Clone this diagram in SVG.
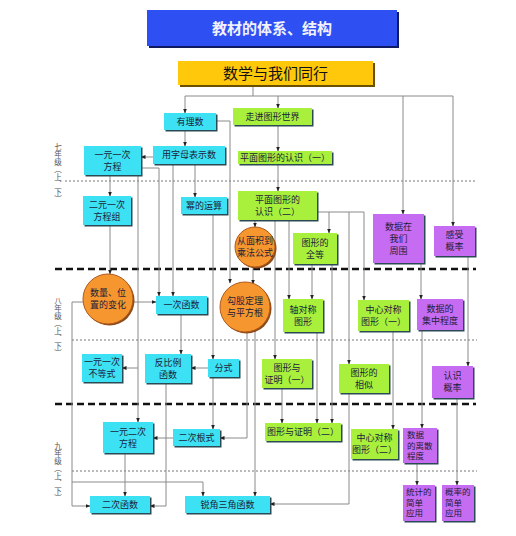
<svg xmlns="http://www.w3.org/2000/svg" width="516" height="536" viewBox="0 0 516 536">
<style>
text{font-family:"Noto Sans CJK SC","Noto Sans",sans-serif;}
.t{font-size:9px;fill:#1c1c3a;text-anchor:middle;}
.tl{font-size:8.5px;fill:#1c1c3a;text-anchor:start;}
.g{font-size:7.5px;fill:#555;writing-mode:vertical-rl;}
.sh{fill:#2a4a55;}
.c{fill:#3CE2F4;}
.gr{fill:#A8F03C;}
.p{fill:#C66CF2;}
.o{fill:#F5962E;stroke:#B0581A;stroke-width:1;}
.osh{fill:#8a4a1a;}
.ln{fill:none;stroke:#8a8a8a;stroke-width:1;}
.thick{stroke:#111;stroke-width:2.5;stroke-dasharray:7 4;}
.dot{stroke:#777;stroke-width:1;stroke-dasharray:2 2;}
</style>
<defs>
<marker id="a" markerWidth="5" markerHeight="5" refX="4.5" refY="2.5" orient="auto" markerUnits="userSpaceOnUse">
<path d="M0,0.5 L5,2.5 L0,4.5 Z" fill="#222"/>
</marker>
</defs>
<rect width="516" height="536" fill="#fff"/>

<g id="dividers">
<line class="dot" x1="65" y1="181" x2="477" y2="181"/>
<line class="thick" x1="55" y1="269" x2="476" y2="269"/>
<line class="dot" x1="72" y1="340" x2="477" y2="340"/>
<line class="thick" x1="55" y1="404" x2="476" y2="404"/>
<line class="dot" x1="72" y1="471" x2="477" y2="471"/>
</g>

<g id="grades">
<text class="g" x="58" y="143">七年级（上、下）</text>
<text class="g" x="58" y="297">八年级（上、下）</text>
<text class="g" x="58" y="442">九年级（上、下）</text>
</g>

<g id="connectors" class="ln">
<path d="M253,85 V96"/>
<path d="M185,96 H453"/>
<path d="M185,96 V113" marker-end="url(#a)"/>
<path d="M278,96 V108" marker-end="url(#a)"/>
<path d="M403,96 V214" marker-end="url(#a)"/>
<path d="M453,96 V226" marker-end="url(#a)"/>
<path d="M185,130 V146" marker-end="url(#a)"/>
<path d="M216,121 H230 V283" marker-end="url(#a)"/>
<path d="M153,157 H141" marker-end="url(#a)"/>
<path d="M195,164 V197" marker-end="url(#a)"/>
<path d="M173,164 V296" marker-end="url(#a)"/>
<path d="M278,125 V151" marker-end="url(#a)"/>
<path d="M278,164 V191" marker-end="url(#a)"/>
<path d="M110,175 V196" marker-end="url(#a)"/>
<path d="M141,168 H159 V296" marker-end="url(#a)"/>
<path d="M138,175 V422" marker-end="url(#a)"/>
<path d="M138,368 H122" marker-end="url(#a)"/>
<path d="M110,225 V274" marker-end="url(#a)"/>
<path d="M213,214 V359" marker-end="url(#a)"/>
<path d="M255,220 V227" marker-end="url(#a)"/>
<path d="M253,267 V284" marker-end="url(#a)"/>
<path d="M275,220 V359" marker-end="url(#a)"/>
<path d="M289,220 V299" marker-end="url(#a)"/>
<path d="M317,212 H364 V300" marker-end="url(#a)"/>
<path d="M329,212 V233" marker-end="url(#a)"/>
<path d="M349,212 V364" marker-end="url(#a)"/>
<path d="M312,264 V299" marker-end="url(#a)"/>
<path d="M332,264 V423" marker-end="url(#a)"/>
<path d="M421,263 V299" marker-end="url(#a)"/>
<path d="M468,256 V366" marker-end="url(#a)"/>
<path d="M133,302 H156" marker-end="url(#a)"/>
<path d="M83,302 H72 V506 H90" marker-end="url(#a)"/>
<path d="M72,482 H203 V496" marker-end="url(#a)"/>
<path d="M181,314 V354" marker-end="url(#a)"/>
<path d="M208,368 H191" marker-end="url(#a)"/>
<path d="M213,377 V429" marker-end="url(#a)"/>
<path d="M166,383 V506 H150" marker-end="url(#a)"/>
<path d="M247,332 V438 H220" marker-end="url(#a)"/>
<path d="M255,330 V496" marker-end="url(#a)"/>
<path d="M125,453 V496" marker-end="url(#a)"/>
<path d="M173,438 H153" marker-end="url(#a)"/>
<path d="M282,388 V423" marker-end="url(#a)"/>
<path d="M317,332 V423" marker-end="url(#a)"/>
<path d="M349,393 V504 H270" marker-end="url(#a)"/>
<path d="M393,331 V429" marker-end="url(#a)"/>
<path d="M422,330 V428" marker-end="url(#a)"/>
<path d="M417,463 V485" marker-end="url(#a)"/>
<path d="M457,398 V485" marker-end="url(#a)"/>
</g>

<g id="title">
<rect x="149" y="12" width="250" height="36" fill="#101a60"/>
<rect x="147" y="10" width="250" height="36" fill="#2E50F2"/>
<text x="272" y="34" font-size="15" font-weight="bold" fill="#F2F2FF" text-anchor="middle">教材的体系、结构</text>
</g>
<g id="n-main">
<rect x="180" y="63" width="195" height="24" fill="#6a5000"/>
<rect x="178" y="61" width="195" height="24" fill="#FFC80A"/>
<text x="275.5" y="78.5" font-size="15" fill="#111" text-anchor="middle">数学与我们同行</text>
</g>

<g id="n-youlishu"><rect class="sh" x="165.5" y="114.5" width="52" height="17"/><rect class="c" x="164" y="113" width="52" height="17"/><text class="t" x="190" y="124.5">有理数</text></g>
<g id="n-zoujin"><rect class="sh" x="234.5" y="109.5" width="79" height="17"/><rect class="gr" x="233" y="108" width="79" height="17"/><text class="t" x="272.5" y="119.5">走进图形世界</text></g>
<g id="n-pingmian1"><rect class="sh" x="239.5" y="152.5" width="94" height="13"/><rect class="gr" x="238" y="151" width="94" height="13"/><text class="t" x="285" y="160.5" font-size="8.5">平面图形的认识（一）</text></g>
<g id="n-zimu"><rect class="sh" x="154.5" y="147.5" width="72" height="18"/><rect class="c" x="153" y="146" width="72" height="18"/><text class="t" x="189" y="158">用字母表示数</text></g>
<g id="n-yiyuanyici"><rect class="sh" x="85.5" y="147.5" width="57" height="29"/><rect class="c" x="84" y="146" width="57" height="29"/><text class="t" x="112.5" y="157.5">一元一次</text><text class="t" x="112.5" y="169.5">方程</text></g>
<g id="n-eryuan"><rect class="sh" x="84.5" y="197.5" width="48" height="29"/><rect class="c" x="83" y="196" width="48" height="29"/><text class="t" x="107" y="207.5">二元一次</text><text class="t" x="107" y="219.5">方程组</text></g>
<g id="n-mi"><rect class="sh" x="182.5" y="198.5" width="46" height="17"/><rect class="c" x="181" y="197" width="46" height="17"/><text class="t" x="204" y="208.5">幂的运算</text></g>
<g id="n-pingmian2"><rect class="sh" x="239.5" y="192.5" width="79" height="29"/><rect class="gr" x="238" y="191" width="79" height="29"/><text class="t" x="277.5" y="202.5">平面图形的</text><text class="t" x="277.5" y="214.5">认识（二）</text></g>
<g id="n-mianji"><circle class="osh" cx="256.5" cy="248.5" r="20"/><circle class="o" cx="255" cy="247" r="20"/><text class="t" x="255" y="244">从面积到</text><text class="t" x="255" y="256">乘法公式</text></g>
<g id="n-quandeng"><rect class="sh" x="294.5" y="234.5" width="44" height="31"/><rect class="gr" x="293" y="233" width="44" height="31"/><text class="t" x="315" y="245.5">图形的</text><text class="t" x="315" y="257.5">全等</text></g>
<g id="n-shujuzai"><rect class="sh" x="374.5" y="215.5" width="51" height="49"/><rect class="p" x="373" y="214" width="51" height="49"/><text class="t" x="398.5" y="229.5">数据在</text><text class="t" x="398.5" y="241.5">我们</text><text class="t" x="398.5" y="253.5">周围</text></g>
<g id="n-ganshou"><rect class="sh" x="435.5" y="227.5" width="41" height="30"/><rect class="p" x="434" y="226" width="41" height="30"/><text class="t" x="454.5" y="238">感受</text><text class="t" x="454.5" y="250">概率</text></g>
<g id="n-shuliang"><circle class="osh" cx="109.5" cy="300.5" r="25"/><circle class="o" cx="108" cy="299" r="25"/><text class="t" x="108" y="296">数量、位</text><text class="t" x="108" y="308">置的变化</text></g>
<g id="n-yicihanshu"><rect class="sh" x="157.5" y="297.5" width="51" height="18"/><rect class="c" x="156" y="296" width="51" height="18"/><text class="t" x="181.5" y="308">一次函数</text></g>
<g id="n-gougu"><circle class="osh" cx="246.5" cy="308.5" r="25"/><circle class="o" cx="245" cy="307" r="25"/><text class="t" x="245" y="304">勾股定理</text><text class="t" x="245" y="316">与平方根</text></g>
<g id="n-zhouduicheng"><rect class="sh" x="284.5" y="300.5" width="40" height="33"/><rect class="gr" x="283" y="299" width="40" height="33"/><text class="t" x="303" y="312.5">轴对称</text><text class="t" x="303" y="324.5">图形</text></g>
<g id="n-zhongxin1"><rect class="sh" x="359.5" y="301.5" width="51" height="31"/><rect class="gr" x="358" y="300" width="51" height="31"/><text class="t" x="383.5" y="312.5">中心对称</text><text class="t" x="383.5" y="324.5">图形（一）</text></g>
<g id="n-jizhong"><rect class="sh" x="418.5" y="300.5" width="46" height="31"/><rect class="p" x="417" y="299" width="46" height="31"/><text class="t" x="440" y="311.5">数据的</text><text class="t" x="440" y="323.5">集中程度</text></g>
<g id="n-budengshi"><rect class="sh" x="83.5" y="355.5" width="40" height="28"/><rect class="c" x="82" y="354" width="40" height="28"/><text class="t" x="102" y="365">一元一次</text><text class="t" x="102" y="377">不等式</text></g>
<g id="n-fanbili"><rect class="sh" x="146.5" y="355.5" width="46" height="29"/><rect class="c" x="145" y="354" width="46" height="29"/><text class="t" x="168" y="365.5">反比例</text><text class="t" x="168" y="377.5">函数</text></g>
<g id="n-fenshi"><rect class="sh" x="209.5" y="360.5" width="31" height="18"/><rect class="c" x="208" y="359" width="31" height="18"/><text class="t" x="223.5" y="371">分式</text></g>
<g id="n-zhengming1"><rect class="sh" x="263.5" y="360.5" width="50" height="29"/><rect class="gr" x="262" y="359" width="50" height="29"/><text class="t" x="287" y="370.5">图形与</text><text class="t" x="287" y="382.5">证明（一）</text></g>
<g id="n-xiangsi"><rect class="sh" x="340.5" y="365.5" width="50" height="29"/><rect class="gr" x="339" y="364" width="50" height="29"/><text class="t" x="364" y="375.5">图形的</text><text class="t" x="364" y="387.5">相似</text></g>
<g id="n-renshi"><rect class="sh" x="433.5" y="367.5" width="41" height="32"/><rect class="p" x="432" y="366" width="41" height="32"/><text class="t" x="452.5" y="379">认识</text><text class="t" x="452.5" y="391">概率</text></g>
<g id="n-yiyuaner"><rect class="sh" x="104.5" y="423.5" width="50" height="31"/><rect class="c" x="103" y="422" width="50" height="31"/><text class="t" x="128" y="434.5">一元二次</text><text class="t" x="128" y="446.5">方程</text></g>
<g id="n-genshi"><rect class="sh" x="174.5" y="430.5" width="47" height="17"/><rect class="c" x="173" y="429" width="47" height="17"/><text class="t" x="196.5" y="440.5">二次根式</text></g>
<g id="n-zhengming2"><rect class="sh" x="266.5" y="424.5" width="76" height="18"/><rect class="gr" x="265" y="423" width="76" height="18"/><text class="t" x="303" y="435">图形与证明（二）</text></g>
<g id="n-zhongxin2"><rect class="sh" x="352.5" y="430.5" width="47" height="30"/><rect class="gr" x="351" y="429" width="47" height="30"/><text class="t" x="374.5" y="441">中心对称</text><text class="t" x="374.5" y="453">图形（二）</text></g>
<g id="n-lisan"><rect class="sh" x="404.5" y="429.5" width="34" height="35"/><rect class="p" x="403" y="428" width="34" height="35"/><text class="tl" x="407" y="438">数据</text><text class="tl" x="407" y="448.5">的离散</text><text class="tl" x="407" y="459">程度</text></g>
<g id="n-tongji"><rect class="sh" x="404.5" y="486.5" width="32" height="36"/><rect class="p" x="403" y="485" width="32" height="36"/><text class="tl" x="406" y="495">统计的</text><text class="tl" x="406" y="505.5">简单</text><text class="tl" x="406" y="516">应用</text></g>
<g id="n-gailv"><rect class="sh" x="443.5" y="486.5" width="32" height="36"/><rect class="p" x="442" y="485" width="32" height="36"/><text class="tl" x="445" y="495">概率的</text><text class="tl" x="445" y="505.5">简单</text><text class="tl" x="445" y="516">应用</text></g>
<g id="n-ercihanshu"><rect class="sh" x="91.5" y="497.5" width="60" height="17"/><rect class="c" x="90" y="496" width="60" height="17"/><text class="t" x="120" y="507.5">二次函数</text></g>
<g id="n-ruijiao"><rect class="sh" x="186.5" y="497.5" width="85" height="17"/><rect class="c" x="185" y="496" width="85" height="17"/><text class="t" x="227.5" y="507.5">锐角三角函数</text></g>
</svg>
